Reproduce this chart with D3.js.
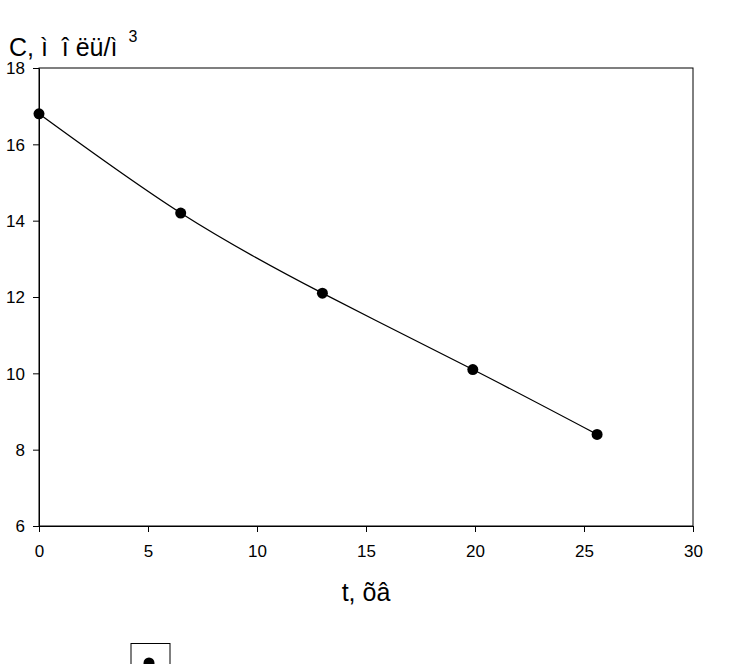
<!DOCTYPE html>
<html><head><meta charset="utf-8">
<script src="https://cdn.jsdelivr.net/npm/d3@7"></script>
<style>body{margin:0;background:#fff}svg{display:block;font-family:"Liberation Sans",Arial,sans-serif}</style>
</head><body>
<svg id="c" width="753" height="664"></svg>
<script>
const tValues = [0, 6.5, 13, 19.9, 25.6];
const cValues = [16.8, 14.2, 12.1, 10.1, 8.4];
const xTicks = [0, 5, 10, 15, 20, 25, 30];
const yTicks = [6, 8, 10, 12, 14, 16, 18];

const svg = d3.select("#c");
const x = d3.scaleLinear().domain([0, 30]).range([39, 693]);
const y = d3.scaleLinear().domain([6, 18]).range([526, 68]);

svg.append("rect").attr("x", 39).attr("y", 68).attr("width", 654).attr("height", 458)
  .attr("fill", "none").attr("stroke", "#000").attr("stroke-width", 1);

const xa = svg.append("g").attr("transform", "translate(0,526)")
  .call(d3.axisBottom(x).tickValues(xTicks).tickSize(6).tickSizeOuter(0).tickFormat(d3.format("d")));
const ya = svg.append("g").attr("transform", "translate(39,0)")
  .call(d3.axisLeft(y).tickValues(yTicks).tickSize(6).tickSizeOuter(0).tickFormat(d3.format("d")));
[xa, ya].forEach(a => {
  a.attr("font-size", null).attr("font-family", null);
  a.select(".domain").attr("stroke", "#000");
  a.selectAll(".tick line").attr("stroke", "#000");
  a.selectAll("text").attr("fill", "#000").style("font-size", "17px")
    .style("font-family", "'Liberation Sans',Arial,sans-serif");
});
xa.selectAll("text").attr("y", 31).attr("dy", null);
ya.selectAll("text").attr("x", -14).attr("dy", "0.35em");

const pts = tValues.map((t, i) => [t, cValues[i]]);
svg.append("path").datum(pts)
  .attr("d", d3.line().x(d => x(d[0])).y(d => y(d[1])).curve(d3.curveNatural))
  .attr("fill", "none").attr("stroke", "#000").attr("stroke-width", 1.3);

svg.selectAll("circle.pt").data(pts).enter().append("circle")
  .attr("class", "pt").attr("cx", d => x(d[0])).attr("cy", d => y(d[1])).attr("r", 5.5).attr("fill", "#000");

const yt = svg.append("text").attr("x", 9).attr("y", 56).style("font-size", "25px")
  .style("white-space", "pre").attr("fill", "#000");
yt.append("tspan").text("C, ì  î ëü/ì");
yt.append("tspan").attr("dx", 11).attr("dy", -14).style("font-size", "16px").text("3");

svg.append("text").attr("x", 366).attr("y", 601).attr("text-anchor", "middle")
  .style("font-size", "25px").attr("fill", "#000").text("t, õâ");

svg.append("rect").attr("x", 131).attr("y", 643.5).attr("width", 39).attr("height", 40)
  .attr("fill", "none").attr("stroke", "#000").attr("stroke-width", 1);
svg.append("circle").attr("cx", 149).attr("cy", 663).attr("r", 5.5).attr("fill", "#000");
</script>
</body></html>
